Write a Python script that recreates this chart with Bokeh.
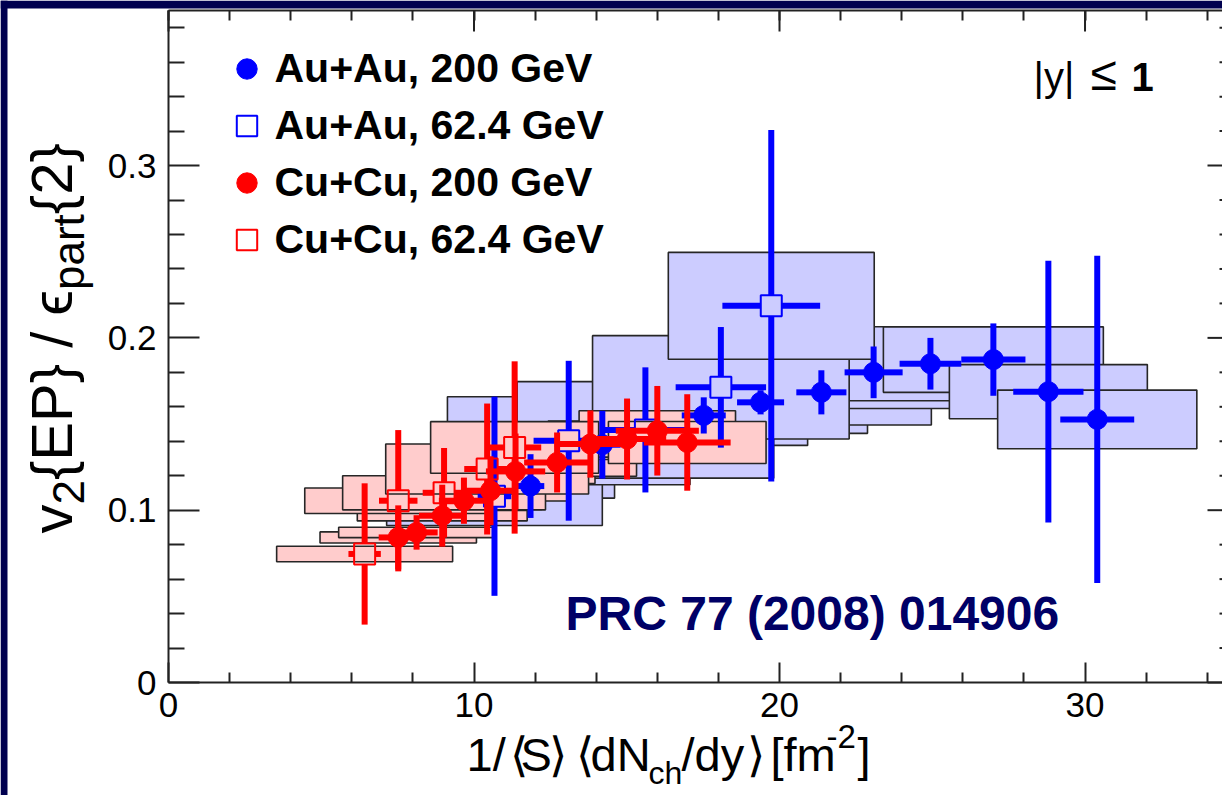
import math
from bokeh.plotting import figure
from bokeh.models import Range1d, FixedTicker, LinearAxis, Label, Legend, LegendItem
from bokeh.embed import file_html
from bokeh.resources import INLINE

# ---------------- data ----------------
# Au+Au 200 GeV (filled blue circles)
au200_x = [11.85, 14.2, 17.52, 19.38, 21.37, 23.08, 24.94, 27.0, 28.8, 30.4]
au200_y = [0.114, 0.138, 0.155, 0.1626, 0.1684, 0.180, 0.185, 0.1874, 0.1688, 0.1527]
au200_ex = [0.45, 0.6, 0.72, 0.77, 0.82, 0.95, 1.01, 1.05, 1.15, 1.21]
au200_ey = [0.0185, 0.0197, 0.0105, 0.007, 0.0128, 0.015, 0.015, 0.021, 0.076, 0.095]
au200_sx = [2.75, 2.65, 3.4, 3.5, 3.6, 3.3, 3.3, 3.6, 3.24, 3.26]
au200_sy = [0.007, 0.022, 0.0174, 0.018, 0.019, 0.021, 0.0215, 0.019, 0.0157, 0.017]

# Au+Au 62.4 GeV (open blue squares)
au62_x = [10.67, 13.1, 15.61, 18.08, 19.73]
au62_y = [0.1081, 0.1403, 0.1466, 0.1713, 0.2186]
au62_ex = [0.55, 1.15, 1.4, 1.48, 1.6]
au62_ey = [0.0578, 0.0464, 0.0363, 0.035, 0.102]
au62_sx = [3.53, 3.97, 4.2, 4.2, 3.37]
au62_sy = [0.017, 0.0255, 0.028, 0.030, 0.031]

# Cu+Cu 200 GeV (filled red circles)
cu200_x = [7.52, 8.12, 8.96, 9.67, 10.54, 11.36, 12.72, 13.81, 15.01, 16.0, 16.98]
cu200_y = [0.0842, 0.0871, 0.0968, 0.1055, 0.1113, 0.1225, 0.1277, 0.1384, 0.1413, 0.1461, 0.1393]
cu200_ex = [0.64, 0.69, 0.76, 0.82, 0.9, 0.97, 1.08, 1.17, 1.28, 1.36, 1.42]
cu200_ey = [0.0186, 0.0100, 0.018, 0.0134, 0.02, 0.022, 0.0174, 0.0195, 0.0235, 0.026, 0.028]
cu200_sx = [2.56, 2.55, 2.78, 2.55, 2.6, 2.6, 2.6, 2.6, 2.58, 2.56, 2.58]
cu200_sy = [0.0032, 0.003, 0.003, 0.005, 0.006, 0.007, 0.008, 0.009, 0.0105, 0.0116, 0.0122]

# Cu+Cu 62.4 GeV (open red squares)
cu62_x = [6.42, 7.52, 9.02, 10.43, 11.33]
cu62_y = [0.0746, 0.1055, 0.1101, 0.1239, 0.1364]
cu62_ex = [0.53, 0.63, 0.7, 0.75, 0.87]
cu62_ey = [0.041, 0.041, 0.026, 0.038, 0.050]
cu62_sx = [2.88, 3.06, 3.32, 3.32, 2.75]
cu62_sy = [0.0045, 0.0074, 0.0099, 0.0145, 0.015]

legend_labels = ["Au+Au, 200 GeV", "Au+Au, 62.4 GeV", "Cu+Cu, 200 GeV", "Cu+Cu, 62.4 GeV"]

x_major = [0, 10, 20, 30]
x_minor = [2, 4, 6, 8, 12, 14, 16, 18, 22, 24, 26, 28, 32, 34]
y_major = [0, 0.1, 0.2, 0.3]
y_labels = ["0", "0.1", "0.2", "0.3"]
y_minor = [0.02, 0.04, 0.06, 0.08, 0.12, 0.14, 0.16, 0.18, 0.22, 0.24, 0.26, 0.28,
           0.32, 0.34, 0.36, 0.38]

# ---------------- geometry ----------------
W, H = 1222, 795
ML, MT, MB = 168, 10, 113          # where the axes sit inside the canvas, px
X0, X1 = 0.0, 34.5
Y0, Y1 = 0.0, 0.39
PXX = (W - ML) / (X1 - X0)
PXY = (H - MT - MB) / (Y1 - Y0)


def dx(px):
    return X0 + (px - ML) / PXX


def dy(py):
    return Y0 + (H - MB - py) / PXY


BLUE = "#0000ff"
RED = "#ff0000"
BOX_BLUE = "#ccccff"
BOX_RED = "#ffcccc"
EDGE = "#262626"
AXC = "#222222"
NAVY = "#00004f"
FONT = "Liberation Sans"

p = figure(width=W, height=H,
           x_range=Range1d(X0 - ML / PXX, X1),
           y_range=Range1d(Y0 - MB / PXY, Y1 + MT / PXY),
           output_backend="svg", toolbar_location=None,
           min_border_left=0, min_border_right=0, min_border_top=0, min_border_bottom=0)
p.outline_line_color = None
p.xgrid.visible = False
p.ygrid.visible = False
p.background_fill_color = "white"
p.border_fill_color = "white"

# dark slide border seen along the left and top edges of the picture
p.quad(left=[dx(0), dx(0)], right=[dx(7), dx(W)], bottom=[dy(H), dy(8)], top=[dy(0), dy(0)],
       fill_color=NAVY, line_color=None)

xa = p.xaxis[0]
xa.ticker = FixedTicker(ticks=x_major, minor_ticks=x_minor)
xa.fixed_location = Y0
xa.bounds = (X0, X1)
ya = p.yaxis[0]
ya.ticker = FixedTicker(ticks=y_major, minor_ticks=y_minor)
ya.major_label_overrides = {t: s for t, s in zip(y_major, y_labels)}
ya.fixed_location = X0
ya.bounds = (Y0, Y1)
for ax, mj, mn in ((xa, 20, 10), (ya, 31, 16)):
    ax.major_tick_in = mj
    ax.major_tick_out = 0
    ax.minor_tick_in = mn
    ax.minor_tick_out = 0
    ax.axis_line_width = 2
    ax.axis_line_color = AXC
    ax.major_tick_line_width = 2
    ax.minor_tick_line_width = 2
    ax.major_tick_line_color = AXC
    ax.minor_tick_line_color = AXC
    ax.major_label_text_font = FONT
    ax.major_label_text_font_size = "35px"
    ax.major_label_text_color = "black"
    ax.axis_label = None
xa.major_label_standoff = 10
ya.major_label_standoff = 12

top = LinearAxis(ticker=FixedTicker(ticks=[], minor_ticks=sorted(x_minor + x_major)),
                 fixed_location=Y1, bounds=(X0, X1),
                 major_tick_in=0, major_tick_out=0, minor_tick_in=10, minor_tick_out=0,
                 axis_line_width=2, axis_line_color=AXC, minor_tick_line_width=2,
                 minor_tick_line_color=AXC, major_label_standoff=0, axis_label=None)
p.add_layout(top, "above")
# longer top ticks at the major positions
p.segment(x0=x_major, x1=x_major, y0=[Y1] * len(x_major), y1=[Y1 - 21 / PXY] * len(x_major),
          line_color=AXC, line_width=2)
# stubs of the right-hand ticks visible at the picture edge
p.segment(x0=[X1 - 3 / PXX] * len(y_minor), x1=[X1] * len(y_minor), y0=y_minor, y1=y_minor,
          line_color=AXC, line_width=2)
p.segment(x0=[X1 - 15 / PXX] * len(y_major), x1=[X1] * len(y_major), y0=y_major, y1=y_major,
          line_color=AXC, line_width=2)

# ---------------- systematic boxes ----------------
for xs, ys, sx, sy, fc in ((au200_x, au200_y, au200_sx, au200_sy, BOX_BLUE),
                           (au62_x, au62_y, au62_sx, au62_sy, BOX_BLUE),
                           (cu200_x, cu200_y, cu200_sx, cu200_sy, BOX_RED),
                           (cu62_x, cu62_y, cu62_sx, cu62_sy, BOX_RED)):
    p.quad(left=[a - b for a, b in zip(xs, sx)], right=[a + b for a, b in zip(xs, sx)],
           bottom=[a - b for a, b in zip(ys, sy)], top=[a + b for a, b in zip(ys, sy)],
           fill_color=fc, line_color=EDGE, line_width=1.6)

HS = 10.5  # half size of the open squares, px


def add_series(xs, ys, exs, eys, color, filled):
    hx = 0.0 if filled else HS / PXX
    hy = 0.0 if filled else HS / PXY
    x0, y0, x1, y1 = [], [], [], []
    for x, y, ex, ey in zip(xs, ys, exs, eys):
        if ey > hy:
            x0 += [x, x]; x1 += [x, x]
            y0 += [y + hy, y - hy]; y1 += [y + ey, y - ey]
        if ex > hx:
            x0 += [x + hx, x - hx]; x1 += [x + ex, x - ex]
            y0 += [y, y]; y1 += [y, y]
    p.segment(x0=x0, y0=y0, x1=x1, y1=y1, line_color=color, line_width=6)
    if filled:
        return p.scatter(xs, ys, marker="circle", size=20, fill_color=color,
                         line_color=color, line_width=1)
    return p.scatter(xs, ys, marker="square", size=21, fill_alpha=0,
                     line_color=color, line_width=2)


r1 = add_series(au200_x, au200_y, au200_ex, au200_ey, BLUE, True)
r2 = add_series(au62_x, au62_y, au62_ex, au62_ey, BLUE, False)
r3 = add_series(cu200_x, cu200_y, cu200_ex, cu200_ey, RED, True)
r4 = add_series(cu62_x, cu62_y, cu62_ex, cu62_ey, RED, False)

legend = Legend(items=[LegendItem(label=l, renderers=[r]) for l, r in
                       zip(legend_labels, (r1, r2, r3, r4))],
                location=(220.5, 530.5), glyph_width=51, glyph_height=51,
                label_standoff=3, spacing=6, padding=0, margin=0,
                border_line_color=None, background_fill_alpha=0,
                label_text_font=FONT, label_text_font_style="bold",
                label_text_font_size="41px", label_text_color="black")
p.add_layout(legend)

MID = 0.35  # distance from baseline to the middle of the text, in em


def lab(text, px, py, size, style="normal", color="black", rotated=False):
    """px, py: start of the baseline in picture pixels."""
    if rotated:
        ax_, ay_ = px - MID * size, py
    else:
        ax_, ay_ = px, py - MID * size
    p.add_layout(Label(x=dx(ax_), y=dy(ay_), text=text, text_font=FONT,
                       text_font_size=f"{size}px", text_font_style=style,
                       text_color=color, angle=math.pi / 2 if rotated else 0.0,
                       text_align="left", text_baseline="middle"))


# x axis title: 1/<S> <dN_ch/dy> [fm^-2], pieces placed where the reference has them
XT = 47
for text, px, py, size in (("1/", 466, 770, XT), ("\u27e8", 509, 770, XT),
                           ("S", 520, 770, XT), ("\u27e9", 548, 770, XT),
                           ("\u27e8", 575, 770, XT), ("dN", 590, 770, XT),
                           ("ch", 648, 784, 32), ("/dy", 681, 770, XT),
                           ("\u27e9", 746, 770, XT), ("[fm", 770, 770, XT),
                           ("-2", 826, 748, 33), ("]", 857, 770, XT)):
    lab(text, px, py, size)

# y axis title: v_2{EP} / eps_part{2}  (rotated, read bottom to top)
WID = {"v": .5, "2": .556, "{": .334, "}": .334, "E": .667, "P": .667, " ": .278, "/": .278,
       "\u03f5": .44, "p": .556, "a": .556, "r": .333, "t": .278}
MAIN, SUB, BX, SUBOFF = 58, 44, 71, 12
pos = 533.0
for text, sub in (("v", False), ("2", True), ("{EP} / ", False), ("\u03f5", False),
                  ("part", True), ("{2}", False)):
    size = SUB if sub else MAIN
    lab(text, BX + (SUBOFF if sub else 0), pos, size, rotated=True)
    pos -= sum(WID[c] for c in text) * size

lab("PRC 77 (2008) 014906", 565, 630, 48, style="bold", color="#000066")
lab("|y|", 1033, 90, 40)
lab("\u2264", 1090, 90, 48)
lab("1", 1131, 90, 40, style="bold")

open("out.html", "w").write(file_html(p, INLINE))
